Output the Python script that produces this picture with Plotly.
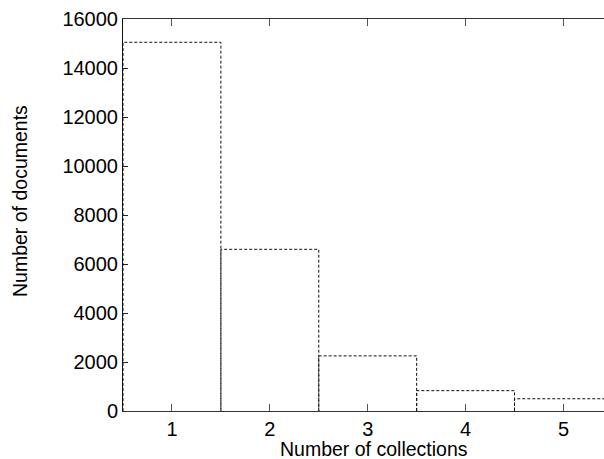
import plotly.graph_objects as go

collections = [1, 2, 3, 4, 5]
documents = [15050, 6600, 2250, 830, 500]
y_ticks = [0, 2000, 4000, 6000, 8000, 10000, 12000, 14000, 16000]

fig = go.Figure()
for c, v in zip(collections, documents):
    left, right = c - 0.5, c + 0.5
    fig.add_trace(go.Scatter(
        x=[left, left, right, right], y=[0, v, v, 0],
        mode="lines",
        line=dict(color="#111111", width=1, dash="3px,2px"),
        hoverinfo="skip", showlegend=False))

tick_font = dict(family="Liberation Sans, Arial, sans-serif", size=20, color="#000000")
title_font = dict(family="Liberation Sans, Arial, sans-serif", size=19.5, color="#000000")
fig.update_layout(
    width=604, height=459,
    margin=dict(l=123, r=0, t=19, b=48),
    paper_bgcolor="white", plot_bgcolor="white",
    font=tick_font,
    showlegend=False,
    annotations=[
        dict(text="Number of collections", xref="paper", yref="paper",
             x=0.5, y=0, xshift=10, yshift=-38, xanchor="center", yanchor="middle",
             showarrow=False, font=title_font),
        dict(text="Number of documents", xref="paper", yref="paper",
             x=0, y=0.5, xshift=-103, yshift=14, xanchor="center", yanchor="middle",
             textangle=-90, showarrow=False, font=title_font),
    ],
)
fig.update_xaxes(
    range=[0.5, 5.414], tickvals=collections, ticktext=[str(c) for c in collections],
    ticks="inside", ticklen=7, tickcolor="#555555", tickwidth=1,
    showline=True, linecolor="#333333", linewidth=1, mirror="ticks",
    showgrid=False, zeroline=False, automargin=False,
    tickfont=tick_font,
)
fig.update_yaxes(
    range=[0, 16000], tickvals=y_ticks, ticktext=[str(t) for t in y_ticks],
    ticks="inside", ticklen=5, tickcolor="#222222", tickwidth=1,
    showline=True, linecolor="#111111", linewidth=1,
    showgrid=False, zeroline=False, automargin=False,
    tickfont=tick_font,
)
fig.write_html("out.html", config={"displayModeBar": False},
               post_script="document.body.style.margin='0';document.body.style.overflow='hidden';")
